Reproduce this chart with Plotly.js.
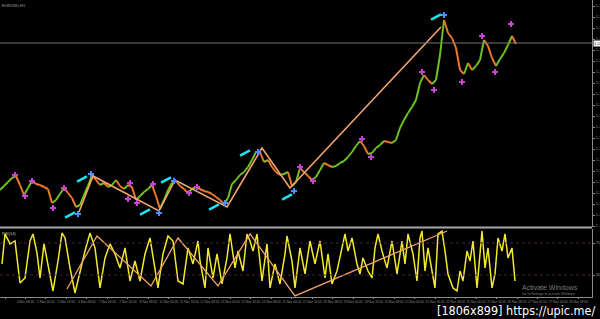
<!DOCTYPE html>
<html>
<head>
<meta charset="utf-8">
<script src="https://cdn.plot.ly/plotly-3.0.1.min.js"></script>
<style>html,body{margin:0;padding:0;background:#000;}#chart{width:600px;height:319px;}</style>
</head>
<body>
<div id="chart"></div>
<script>
// ---- Price (close) per bar ----
const closes = [
1.2070,1.2078,1.2086,1.2094,1.2098,1.2080,1.2060,1.2074,1.2088,1.2082,
1.2080,1.2076,1.2072,1.2044,1.2050,1.2062,1.2074,1.2064,1.2054,1.2036,
1.2040,1.2060,1.2078,1.2100,1.2090,1.2080,1.2084,1.2076,1.2080,1.2090,
1.2078,1.2072,1.2080,1.2076,1.2050,1.2058,1.2066,1.2072,1.2080,1.2058,
1.2032,1.2050,1.2070,1.2084,1.2088,1.2078,1.2072,1.2064,1.2072,1.2076,
1.2072,1.2068,1.2066,1.2062,1.2056,1.2050,1.2042,1.2054,1.2082,1.2090,
1.2100,1.2106,1.2116,1.2130,1.2146,1.2146,1.2126,1.2130,1.2116,1.2106,
1.2100,1.2102,1.2106,1.2078,1.2086,1.2114,1.2106,1.2098,1.2090,1.2096,
1.2110,1.2124,1.2120,1.2116,1.2118,1.2124,1.2128,1.2136,1.2146,1.2158,
1.2168,1.2158,1.2142,1.2144,1.2154,1.2160,1.2168,1.2166,1.2164,1.2170,
1.2194,1.2210,1.2224,1.2236,1.2250,1.2284,1.2300,1.2290,1.2282,1.2290,
1.2340,1.2410,1.2384,1.2374,1.2354,1.2310,1.2302,1.2324,1.2310,1.2318,
1.2330,1.2370,1.2358,1.2334,1.2318,1.2332,1.2344,1.2360,1.2378,1.2362
];
const currentPrice = 1.2364;

// ---- Fractal marks (bar, price) ----
const fractalBar   = [3.75,6.25,8,13.25,16,32,32.5,34.25,38.25,47.25,49.25,75,78.25,90.5,92.75,105.5,108.5,115.5,120.5,123.75,127.75];
const fractalPrice = [1.2100,1.2058,1.2088,1.2034,1.2074,1.2052,1.2084,1.2044,1.2082,1.2064,1.2076,1.2116,1.2088,1.2172,1.2136,1.2306,1.2270,1.2286,1.2378,1.2306,1.2402];

// ---- Swing points (bar, price) ----
const swingBar   = [19.5,22.75,39.75,43.5,56.25,64.5,73.5,111];
const swingPrice = [1.2022,1.2102,1.2024,1.2088,1.2044,1.2146,1.2068,1.2420];

// ---- ZigZag vertices ----
const zigBar   = [19.75,23.25,39.75,43.75,56.75,65.5,72.5,110.25];
const zigPrice = [1.2026,1.2098,1.2028,1.2090,1.2036,1.2154,1.2074,1.2396];

// ---- Signal arrows ----
const arrowBar   = [17.5,20.5,36.25,41.5,53.5,61.25,71.75,109];
const arrowPrice = [1.2020,1.2092,1.2026,1.2090,1.2036,1.2144,1.2056,1.2416];

// ---- Oscillator ----
const oscBar = [0.5,1.25,2.5,3.75,5,6.25,7.5,8.25,9.25,10,11,12,13.25,14.5,15.5,16.25,17.5,18.75,20,21.25,
22.5,23.75,25,26.25,27.5,28.75,30,31.25,32.5,33.75,35,36.25,37.5,38.75,39.5,40.75,42,43.25,44.5,45.75,
47,48.25,49.5,50,51.25,52,53.25,54.25,55.5,56.75,57.5,58.75,59.5,60.75,61.75,62.5,63.25,64.25,65.5,66.75,
67.5,68.75,70,71.25,71.75,73,73.75,75,76.25,77.5,78.75,80,81.25,82,83,84.25,85.5,86.25,87,88,
89.25,90,90.75,92,93,93.75,94.5,95.5,96.75,98,99.25,100.5,101.25,102,103.25,104.25,105,105.5,106.25,107,
108,108.75,109.5,110.5,111.25,112,113.25,114.25,115,115.75,116.75,117.5,118.25,119.25,120.5,121.25,122,123,123.75,124.5,
125.5,126.25,127,128,128.75];
const oscVal = [43.8,81.3,68.8,72.5,20,26.3,72.5,81.3,57.5,26.3,68.8,43.8,10,47.5,82.5,76.3,38.8,7.5,35,60,
82.5,63.8,13.8,51.3,68.8,56.3,38.8,63.8,22.5,47.5,22.5,56.3,76.3,35,13.8,56.3,78.8,72.5,22.5,18.8,
63.8,43.8,72.5,47.5,13.8,63.8,26.3,56.3,18.8,51.3,81.3,38.8,60,35,81.3,72.5,60,81.3,22.5,68.8,
13.8,43.8,18.8,56.3,78.8,47.5,13.8,63.8,31.3,72.5,43.8,72.5,26.3,56.3,18.8,35,63.8,81.3,60,76.3,
43.8,31.3,51.3,35,26.3,63.8,81.3,60,38.8,72.5,31.3,72.5,43.8,81.3,56.3,22.5,76.3,85,35,63.8,
35,13.8,81.3,85,60,31.3,13.8,10,35,22.5,60,47.5,72.5,13.8,85,38.8,63.8,13.8,31.3,76.3,
60,81.3,51.3,63.8,22.5];
const oscZigBar = [16.75,24.25,37.75,44.5,54.5,62.5,73.75,111.75];
const oscZigVal = [12.5,78.8,16.3,76.3,16.3,81.3,3.8,85];
const oscLevels = [70,30];

// ---- Time axis labels ----
const timeLabels = ["1 Nov 2019","4 Nov 08:00","5 Nov 00:00","5 Nov 16:00","6 Nov 08:00","7 Nov 00:00","7 Nov 16:00","8 Nov 08:00",
"11 Nov 00:00","11 Nov 16:00","12 Nov 08:00","13 Nov 00:00","13 Nov 16:00","14 Nov 08:00","15 Nov 00:00","15 Nov 16:00",
"18 Nov 08:00","19 Nov 00:00","19 Nov 16:00","20 Nov 08:00","21 Nov 00:00","21 Nov 16:00","22 Nov 08:00","25 Nov 00:00",
"25 Nov 16:00","26 Nov 08:00","27 Nov 00:00","27 Nov 16:00","28 Nov 08:00"];

// ---- build up / down segments ----
const upX=[],upY=[],dnX=[],dnY=[];
for(let i=1;i<closes.length;i++){
  const tx = closes[i]>=closes[i-1] ? [upX,upY] : [dnX,dnY];
  tx[0].push(i-1,i,null); tx[1].push(closes[i-1],closes[i],null);
}
const tickvals = timeLabels.map((_,i)=>1.25+i*5.12);

const traces = [
  {x:upX,y:upY,type:'scatter',mode:'lines',line:{color:'#6cc21e',width:2},xaxis:'x',yaxis:'y',hoverinfo:'skip'},
  {x:dnX,y:dnY,type:'scatter',mode:'lines',line:{color:'#e8792c',width:2},xaxis:'x',yaxis:'y',hoverinfo:'skip'},
  {x:zigBar,y:zigPrice,type:'scatter',mode:'lines',line:{color:'#f4a46c',width:1.6},xaxis:'x',yaxis:'y'},
  {x:fractalBar,y:fractalPrice,type:'scatter',mode:'markers',marker:{symbol:'cross',size:5,color:'#c844d0'},xaxis:'x',yaxis:'y'},
  {x:swingBar,y:swingPrice,type:'scatter',mode:'markers',marker:{symbol:'cross',size:5,color:'#4f8dff'},xaxis:'x',yaxis:'y'},
  {x:arrowBar,y:arrowPrice,type:'scatter',mode:'markers',marker:{symbol:'line-ew',size:8,angle:-28,line:{color:'#1ee4ee',width:2.5}},xaxis:'x',yaxis:'y'},
  {x:oscBar,y:oscVal,type:'scatter',mode:'lines',line:{color:'#f2ea2a',width:1.5},xaxis:'x',yaxis:'y2'},
  {x:oscZigBar,y:oscZigVal,type:'scatter',mode:'lines',line:{color:'#f4a46c',width:1.3},xaxis:'x',yaxis:'y2'}
];

const pTop = 297;
const layout = {
  width:600,height:319,paper_bgcolor:'#000',plot_bgcolor:'#000',
  margin:{l:0,r:8,t:0,b:22},showlegend:false,
  font:{family:'Liberation Sans, Arial, sans-serif',color:'#9a9a9a'},
  xaxis:{range:[0,148],anchor:'y2',showgrid:false,zeroline:false,showline:true,linecolor:'#8a8a8a',linewidth:1,
    ticks:'outside',ticklen:1,tickcolor:'#8a8a8a',tickvals:tickvals,ticktext:timeLabels,tickangle:0,
    tickfont:{size:3.2,color:'#8a8a8a'}},
  yaxis:{domain:[1-227/pTop,1],range:[1.1996,1.2450],side:'right',anchor:'x',showline:true,linecolor:'#8a8a8a',
    showgrid:false,zeroline:false,tick0:1.2438,dtick:0.0022,tickformat:'.4f',ticks:'outside',ticklen:2,
    tickcolor:'#8a8a8a',tickfont:{size:4,color:'#9a9a9a'}},
  yaxis2:{domain:[0,(pTop-229)/pTop],range:[2.5,87.5],side:'right',anchor:'x',showline:true,linecolor:'#8a8a8a',
    showgrid:false,zeroline:false,tickvals:oscLevels,ticks:'outside',ticklen:2,tickcolor:'#8a8a8a',
    tickfont:{size:4,color:'#9a9a9a'}},
  shapes:[
    {type:'line',xref:'paper',yref:'paper',x0:0,x1:1,y0:(pTop-227.5)/pTop,y1:(pTop-227.5)/pTop,line:{color:'#a8a8a8',width:2}},
    {type:'line',xref:'paper',yref:'y',x0:0,x1:1,y0:currentPrice,y1:currentPrice,line:{color:'#747474',width:1}},
    {type:'line',xref:'paper',yref:'y2',x0:0,x1:1,y0:oscLevels[0],y1:oscLevels[0],line:{color:'#4a2440',width:1,dash:'dot'}},
    {type:'line',xref:'paper',yref:'y2',x0:0,x1:1,y0:oscLevels[1],y1:oscLevels[1],line:{color:'#4a2440',width:1,dash:'dot'}}
  ],
  annotations:[
    {xref:'paper',yref:'y',x:1,y:currentPrice,xanchor:'left',xshift:1,yanchor:'middle',showarrow:false,
     text:currentPrice.toFixed(4),bgcolor:'#ffffff',font:{size:4,color:'#000'},borderpad:0},
    {xref:'paper',yref:'paper',x:0,y:1,xanchor:'left',yanchor:'top',yshift:-1,showarrow:false,text:'EURUSD,H1',font:{size:4,color:'#a0a0a0'}},
    {xref:'paper',yref:'paper',x:0,y:(pTop-229)/pTop,xanchor:'left',yanchor:'top',showarrow:false,text:'RSI(14)',font:{size:4,color:'#c0c0c0'}},
    {xref:'paper',yref:'paper',x:520/592,y:(pTop-287)/pTop,xanchor:'left',yanchor:'middle',showarrow:false,text:'Activate Windows',font:{size:7,color:'#7a7a7a'}},
    {xref:'paper',yref:'paper',x:520/592,y:(pTop-294)/pTop,xanchor:'left',yanchor:'middle',showarrow:false,text:'Go to Settings to activate Windows.',font:{size:3.4,color:'#7a7a7a'}},
    {xref:'paper',yref:'paper',x:1,xshift:5,y:(pTop-310)/pTop,xanchor:'right',yanchor:'middle',showarrow:false,
     text:'[1806x899] https://upic.me/',font:{size:12.5,color:'#ffffff',family:'DejaVu Sans Condensed, Liberation Sans Narrow, sans-serif'}}
  ]
};
Plotly.newPlot('chart',traces,layout,{staticPlot:true,displayModeBar:false});
</script>
</body>
</html>
